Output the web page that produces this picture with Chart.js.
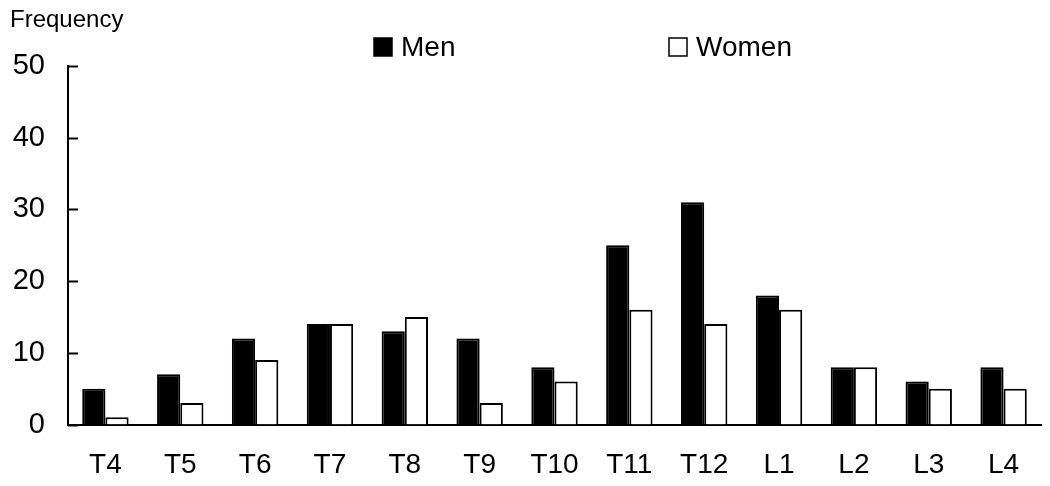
<!DOCTYPE html>
<html lang="en">
<head>
    <meta charset="UTF-8">
    <title>Frequency by vertebral level</title>
    <script src="https://cdn.jsdelivr.net/npm/chart.js"></script>
    <style>
        html, body { margin: 0; padding: 0; background: #fff; }
    </style>
</head>
<body>
    <canvas id="myChart" width="1050" height="486"></canvas>

    <script>
        // data
        const levels = ['T4', 'T5', 'T6', 'T7', 'T8', 'T9', 'T10', 'T11', 'T12', 'L1', 'L2', 'L3', 'L4'];
        const men = [5, 7, 12, 14, 13, 12, 8, 25, 31, 18, 8, 6, 8];
        const women = [1, 3, 9, 14, 15, 3, 6, 16, 14, 16, 8, 5, 5];
        const yTicks = [0, 10, 20, 30, 40, 50];

        const FONT = 'Liberation Sans, Arial, sans-serif';

        // y ticks point into the plot, plus the "Frequency" label and the legend
        const extras = {
            id: 'extras',
            afterDraw(chart) {
                const ctx = chart.ctx;
                const area = chart.chartArea;
                const y = chart.scales.y;
                ctx.save();
                ctx.strokeStyle = '#000';
                ctx.lineWidth = 2;
                yTicks.forEach(v => {
                    const py = Math.round(y.getPixelForValue(v)) + 0.5;
                    ctx.beginPath();
                    ctx.moveTo(area.left, py);
                    ctx.lineTo(area.left + 10, py);
                    ctx.stroke();
                });

                ctx.fillStyle = '#000';
                ctx.font = '24px ' + FONT;
                ctx.textBaseline = 'alphabetic';
                ctx.fillText('Frequency', 10, 27);

                // legend
                const items = [
                    { ds: chart.data.datasets[0], x: 374 },
                    { ds: chart.data.datasets[1], x: 669 }
                ];
                ctx.font = '28px ' + FONT;
                ctx.textBaseline = 'middle';
                items.forEach(it => {
                    ctx.fillStyle = it.ds.backgroundColor;
                    ctx.fillRect(it.x, 38, 18, 18);
                    ctx.strokeStyle = '#000';
                    ctx.lineWidth = 1.5;
                    ctx.strokeRect(it.x, 38, 18, 18);
                    ctx.fillStyle = '#000';
                    ctx.fillText(it.ds.label, it.x + 27, 48);
                });
                ctx.restore();
            }
        };

        const ctx = document.getElementById('myChart').getContext('2d');
        new Chart(ctx, {
            type: 'bar',
            data: {
                labels: levels,
                datasets: [
                    {
                        label: 'Men',
                        data: men,
                        backgroundColor: '#000',
                        borderColor: '#000',
                        borderWidth: 2
                    },
                    {
                        label: 'Women',
                        data: women,
                        backgroundColor: '#fff',
                        borderColor: '#000',
                        borderWidth: 2
                    }
                ]
            },
            options: {
                responsive: false,
                animation: false,
                layout: { padding: { top: 66, right: 9, bottom: 0, left: 0 } },
                datasets: {
                    bar: { categoryPercentage: 0.62, barPercentage: 1.0 }
                },
                plugins: {
                    legend: { display: false },
                    tooltip: { enabled: false }
                },
                scales: {
                    x: {
                        grid: { display: false, drawTicks: false },
                        border: { display: true, color: '#000', width: 2 },
                        ticks: {
                            color: '#000',
                            font: { family: FONT, size: 28 },
                            padding: 24,
                            maxRotation: 0
                        },
                        afterFit(scale) { scale.height = 61.5; }
                    },
                    y: {
                        min: 0,
                        max: 50,
                        afterBuildTicks(scale) {
                            scale.ticks = yTicks.map(v => ({ value: v }));
                        },
                        grid: { display: false, drawTicks: false },
                        border: { display: true, color: '#000', width: 2 },
                        ticks: {
                            color: '#000',
                            font: { family: FONT, size: 29 },
                            padding: 23
                        },
                        afterFit(scale) { scale.width = 68; }
                    }
                }
            },
            plugins: [extras]
        });
    </script>
</body>
</html>
